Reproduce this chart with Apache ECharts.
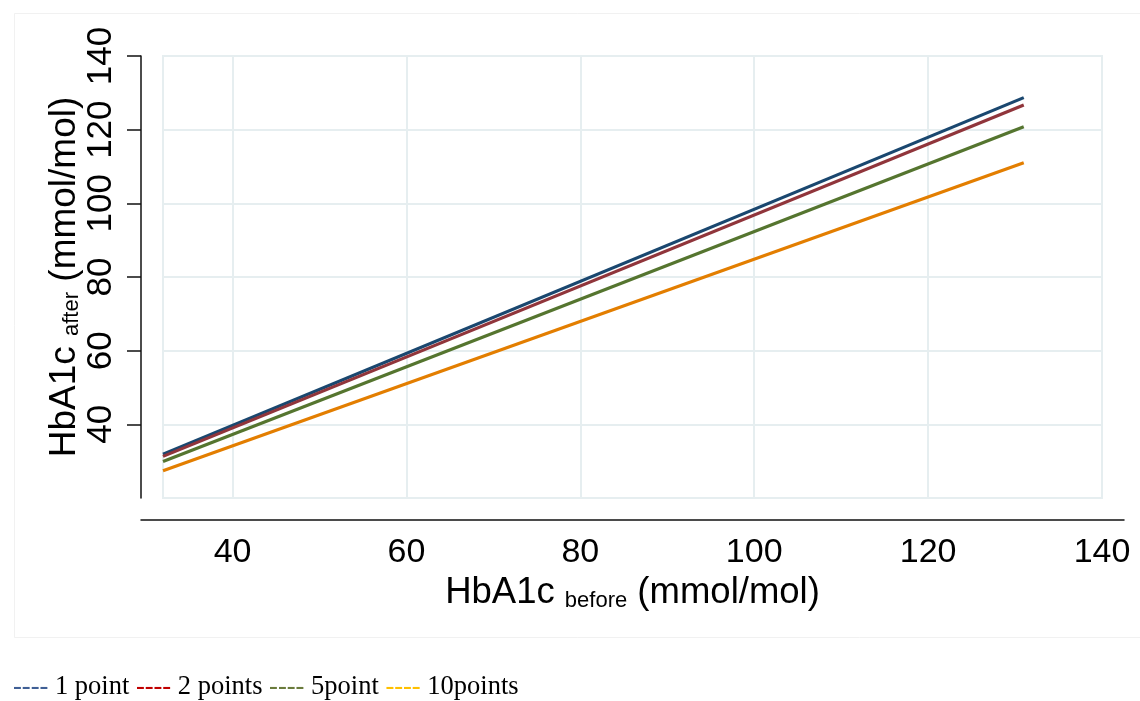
<!DOCTYPE html>
<html>
<head>
<meta charset="utf-8">
<script src="https://cdn.jsdelivr.net/npm/echarts@6/dist/echarts.min.js"></script>
<style>
html,body{margin:0;padding:0;background:#fff;}
#chart{width:1140px;height:701px;}
</style>
</head>
<body>
<div id="chart"></div>
<script>
// ---- data ----
const xBefore   = [32, 131];
const onePoint  = [31.9, 128.7];
const twoPoints = [31.3, 126.7];
const fivePoint = [29.9, 120.8];
const tenPoints = [27.4, 111.0];
const seriesNames = ['1 point', '2 points', '5point', '10points'];
const xTicks = [40, 60, 80, 100, 120, 140];
const yTicks = [40, 60, 80, 100, 120, 140];

const lineColors = ['#1a476f', '#90353b', '#55752f', '#e37e00'];
const legendColors = ['#3f5f95', '#c00000', '#6a7b3c', '#ffc000'];
const FONT = 'Liberation Sans, Arial, sans-serif';

function pairs(ys) { return xBefore.map((x, i) => [x, ys[i]]); }
const allY = [onePoint, twoPoints, fivePoint, tenPoints];

const chart = echarts.init(document.getElementById('chart'), null, {renderer: 'canvas'});

const legendText = seriesNames.map((n, i) => '{c' + i + '|----} ' + n).join(' ');
const legendRich = {};
legendColors.forEach((c, i) => { legendRich['c' + i] = {color: c, fontSize: 26.5, fontFamily: 'Liberation Serif'}; });

chart.setOption({
  backgroundColor: '#fff',
  animation: false,
  graphic: [{
    type: 'rect', left: 12, top: 11, silent: true,
    shape: {width: 1140, height: 624},
    style: {fill: 'none', stroke: '#f1f1f1', lineWidth: 1}
  }],
  title: {
    left: 8, top: 669,
    text: legendText,
    textStyle: {fontFamily: 'Liberation Serif', fontSize: 26.5, fontWeight: 'normal', color: '#000', rich: legendRich}
  },
  grid: [
    {left: 163, right: 38, top: 56, bottom: 203, show: true, backgroundColor: '#fff', borderColor: '#e6eef0', borderWidth: 2},
    {left: 141, right: 16, top: 56, bottom: 203, show: false}
  ],
  xAxis: [{
    gridIndex: 0, type: 'value', min: 32, max: 140, position: 'bottom', offset: 22,
    axisLine: {show: false, onZero: false}, axisTick: {show: false},
    axisLabel: {customValues: xTicks, fontFamily: FONT, fontSize: 34, color: '#000', margin: 16},
    splitLine: {show: true, customValues: xTicks, lineStyle: {color: '#e6eef0', width: 2}},
    name: '{m|HbA1c }{s|before}{m| (mmol/mol)}',
    nameLocation: 'middle', nameGap: 46,
    nameTextStyle: {rich: {
      m: {fontFamily: FONT, fontSize: 36.5, color: '#000', lineHeight: 42, verticalAlign: 'bottom'},
      s: {fontFamily: FONT, fontSize: 22, color: '#000', lineHeight: 42, verticalAlign: 'bottom'}
    }}
  }, {
    gridIndex: 1, type: 'value', min: 0, max: 1, position: 'bottom', offset: 22,
    axisLine: {show: true, onZero: false, lineStyle: {color: '#111', width: 1.5}},
    axisTick: {show: false}, axisLabel: {show: false}, splitLine: {show: false}
  }],
  yAxis: [{
    gridIndex: 0, type: 'value', min: 20, max: 140, interval: 20, position: 'left', offset: 22,
    axisLine: {show: true, onZero: false, lineStyle: {color: '#111', width: 1.5}},
    axisTick: {show: true, customValues: yTicks, length: 14, inside: false, lineStyle: {color: '#111', width: 1.5}},
    axisLabel: {customValues: yTicks, rotate: 90, fontFamily: FONT, fontSize: 35, color: '#000', margin: 22},
    splitLine: {show: true, lineStyle: {color: '#e6eef0', width: 2}},
    name: '{m|HbA1c }{s|after}{m| (mmol/mol)}',
    nameLocation: 'middle', nameGap: 58, nameRotate: 90, nameMoveOverlap: false,
    nameTextStyle: {rich: {
      m: {fontFamily: FONT, fontSize: 37, color: '#000', lineHeight: 42, verticalAlign: 'bottom'},
      s: {fontFamily: FONT, fontSize: 22, color: '#000', lineHeight: 42, verticalAlign: 'bottom'}
    }}
  }, {
    gridIndex: 1, type: 'value', min: 0, max: 1, show: false
  }],
  series: allY.map((ys, i) => ({
    name: seriesNames[i], type: 'line', xAxisIndex: 0, yAxisIndex: 0,
    data: pairs(ys), showSymbol: false, symbol: 'none',
    lineStyle: {color: lineColors[i], width: 3.2}, z: 2
  }))
});
</script>
</body>
</html>
